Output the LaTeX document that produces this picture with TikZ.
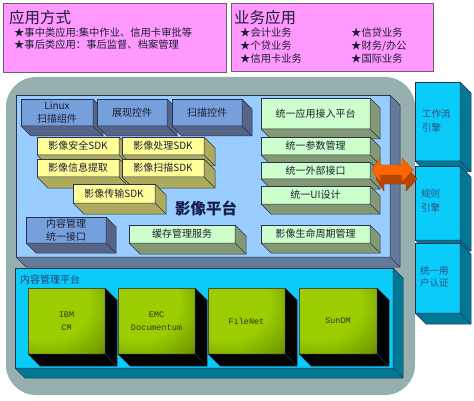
\documentclass[tikz,border=0pt]{standalone}
\usepackage{fontspec}
\setmainfont{Noto Sans CJK SC}
\newfontfamily\monof{Liberation Mono}
\usetikzlibrary{calc}
\definecolor{edgec}{RGB}{40,50,80}
\definecolor{txt}{RGB}{30,30,50}
\definecolor{pinkfill}{RGB}{255,153,255}
\definecolor{pinkedge}{RGB}{110,95,110}
\definecolor{graybg}{RGB}{150,176,176}
\definecolor{platfill}{RGB}{153,204,255}
\definecolor{platside}{RGB}{100,122,155}
\definecolor{boxblue}{RGB}{118,160,220}
\definecolor{blueside}{RGB}{85,100,135}
\definecolor{yel}{RGB}{255,255,153}
\definecolor{yelside}{RGB}{172,170,92}
\definecolor{grn}{RGB}{204,255,204}
\definecolor{grnside}{RGB}{132,152,116}
\definecolor{cyanf}{RGB}{10,204,250}
\definecolor{cyanside}{RGB}{0,120,150}
\definecolor{oran}{RGB}{255,102,0}
\definecolor{oranside}{RGB}{185,70,0}
\definecolor{limeg}{RGB}{155,205,0}
\definecolor{limemid}{RGB}{115,155,0}
\definecolor{coltxt}{RGB}{45,75,125}
\pgfdeclareradialshading{limesh}{\pgfpoint{-18bp}{18bp}}{color(0bp)=(limeg); color(28bp)=(limeg); color(45bp)=(limemid); color(64bp)=(black); color(100bp)=(black)}
\tikzset{
  pane/.style={draw=edgec, line width=0.5pt, inner sep=0pt, outer sep=0pt, align=center,
    font=\fontsize{10}{12.5}\selectfont, text=txt},
  blueb/.style={pane, fill=boxblue},
  yelb/.style={pane, fill=yel},
  grnb/.style={pane, fill=grn},
  cyanb/.style={pane, fill=cyanf, font=\fontsize{9.5}{12.5}\selectfont, text=coltxt},
  platb/.style={pane, fill=platfill},
  contb/.style={pane, fill=cyanf},
  limeb/.style={pane, draw=black!70, shade, shading=limesh,
    font=\monof\fontsize{8.5}{13.5}\selectfont, text={rgb,255:red,50;green,55;blue,30}},
  pinkb/.style={draw=pinkedge, line width=0.8pt, fill=pinkfill, inner sep=0pt},
  ttl/.style={inner sep=0pt, anchor=west, text=txt, font=\fontsize{15.5}{16}\selectfont},
  itm/.style={inner sep=0pt, anchor=west, text=txt, font=\fontsize{10.3}{12}\selectfont},
}
% #1 name, #2 x1, #3 y1, #4 x2, #5 y2, #6 depth, #7 style, #8 side colour, #9 text
\newcommand\tdbox[9]{%
  \node[#7, anchor=north west, minimum width={#4-#2}, minimum height={#5-#3}] (#1) at (#2,#3) {#9};
  \filldraw[fill=#8, draw=edgec, line width=0.5pt, line join=round]
    (#1.north east) -- ++(#6,#6) -- ($(#1.south east)+(#6,#6)$) -- ($(#1.south west)+(#6,#6)$)
    -- (#1.south west) -- (#1.south east) -- cycle;
  \draw[edgec, line width=0.5pt] (#1.south east) -- ++(#6,#6);
}
\begin{document}
\begin{tikzpicture}[x=1pt,y=-1pt]
\useasboundingbox (0,0) rectangle (474,401);
% grey rounded background
\fill[graybg, rounded corners=30] (6,77) rectangle (415,395);
% platform panel
\tdbox{plat}{16}{95}{390}{257}{10}{platb}{platside}{}
% top blue boxes
\tdbox{linux}{21}{99}{93}{126}{10}{blueb}{blueside}{Linux\\扫描组件}
\tdbox{zhan}{97}{99}{167}{126}{10}{blueb}{blueside}{展现控件}
\tdbox{saomiao}{172}{99}{242}{126}{10}{blueb}{blueside}{扫描控件}
% yellow SDK boxes
\tdbox{y1}{37}{137}{119}{155}{11}{yelb}{yelside}{影像安全SDK}
\tdbox{y2}{122}{137}{204}{155}{11}{yelb}{yelside}{影像处理SDK}
\tdbox{y3}{37}{159}{119}{177}{11}{yelb}{yelside}{影像信息提取}
\tdbox{y4}{122}{159}{204}{177}{11}{yelb}{yelside}{影像扫描SDK}
\tdbox{y5}{73}{184}{155}{203}{11}{yelb}{yelside}{影像传输SDK}
% green boxes
\tdbox{g1}{261}{98}{370}{129}{10}{grnb}{grnside}{统一应用接入平台}
\tdbox{g2}{261}{137}{370}{155}{10}{grnb}{grnside}{统一参数管理}
\tdbox{g3}{261}{162}{370}{179}{10}{grnb}{grnside}{统一外部接口}
\tdbox{g4}{261}{186}{370}{204}{10}{grnb}{grnside}{统一UI设计}
\tdbox{g5}{261}{225}{370}{243}{10}{grnb}{grnside}{影像生命周期管理}
\tdbox{cache}{129}{225}{235}{243}{11}{grnb}{grnside}{缓存管理服务}
\tdbox{cmif}{26}{217}{106}{243}{10}{blueb}{blueside}{内容管理\\统一接口}
\node[inner sep=0pt, text={rgb,255:red,20;green,30;blue,70}, font=\bfseries\fontsize{15.5}{16}\selectfont] (plattitle) at (206,208) {影像平台};
% content management platform
\tdbox{cont}{15}{268}{393}{368}{10}{contb}{cyanside}{}
\node[inner sep=0pt, anchor=west, text={rgb,255:red,50;green,60;blue,110}, font=\fontsize{10}{12}\selectfont] (conttitle) at (20,280) {内容管理平台};
\tdbox{ibm}{28}{288}{105}{354}{12}{limeb}{black}{IBM\\CM}
\tdbox{emc}{118}{288}{195}{354}{12}{limeb}{black}{EMC\\Documentum}
\tdbox{filenet}{208}{288}{285}{354}{12}{limeb}{black}{FileNet}
\tdbox{sundm}{299}{288}{377}{354}{12}{limeb}{black}{SunDM}
% right column
\tdbox{c1}{415}{82}{460}{161}{11}{cyanb}{cyanside}{}
\node[inner sep=0pt, anchor=west, align=left, text=coltxt, font=\fontsize{9.5}{13.5}\selectfont] (c1t) at (422,121) {工作流\\引擎};
\tdbox{c2}{415}{166}{460}{240}{11}{cyanb}{cyanside}{}
\node[inner sep=0pt, anchor=west, align=left, text=coltxt, font=\fontsize{9.5}{13.5}\selectfont] (c2t) at (421,201) {规则\\引擎};
\tdbox{c3}{415}{243}{460}{313}{11}{cyanb}{cyanside}{}
\node[inner sep=0pt, anchor=west, align=left, text=coltxt, font=\fontsize{9.5}{12.5}\selectfont] (c3t) at (420,277) {统一用\\户认证};
% orange double arrow (3D)
\coordinate (arr) at (391,170);
\begin{scope}[shift={(arr)}]
  \filldraw[fill=oranside, draw=oranside!70!black, line width=0.4pt, shift={(4,9)}]
    (-19,0) -- (-11,-12) -- (-11,-5) -- (11,-5) -- (11,-12) -- (22,0) -- (11,12) -- (11,5) -- (-11,5) -- (-11,12) -- cycle;
  \filldraw[fill=oran, draw=oranside, line width=0.4pt]
    (-19,0) -- (-11,-12) -- (-11,-5) -- (11,-5) -- (11,-12) -- (22,0) -- (11,12) -- (11,5) -- (-11,5) -- (-11,12) -- cycle;
\end{scope}
% pink boxes
\node[pinkb, anchor=north west, minimum width=223, minimum height=69] (pinkL) at (3,3) {};
\node[ttl] (tL) at (9,18) {应用方式};
\node[itm] (l1) at (14,33) {★事中类应用:集中作业、信用卡审批等};
\node[itm] (l2) at (14,45) {★事后类应用：事后监督、档案管理};
\node[pinkb, anchor=north west, minimum width=202, minimum height=68] (pinkR) at (231,3) {};
\node[ttl] (tR) at (234,18) {业务应用};
\node[itm] (r1) at (240,33) {★会计业务};
\node[itm] (r2) at (240,46) {★个贷业务};
\node[itm] (r3) at (240,59) {★信用卡业务};
\node[itm] (r4) at (351,33) {★信贷业务};
\node[itm] (r5) at (351,46) {★财务/办公};
\node[itm] (r6) at (351,59) {★国际业务};
\end{tikzpicture}
\end{document}
